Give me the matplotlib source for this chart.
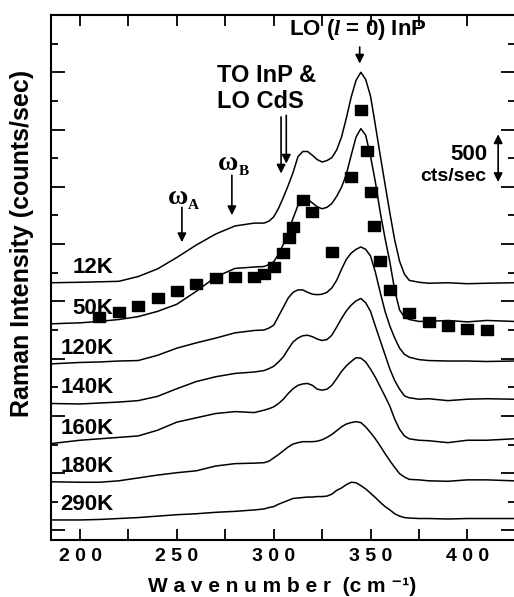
import matplotlib
matplotlib.use("Agg")
import matplotlib.pyplot as plt
from matplotlib.ticker import FixedLocator, MultipleLocator

plt.rcParams["font.family"] = ["Liberation Sans", "DejaVu Sans"]
plt.rcParams["font.weight"] = "bold"
plt.rcParams["mathtext.fontset"] = "custom"
plt.rcParams["mathtext.rm"] = "Liberation Sans:bold"
plt.rcParams["mathtext.bf"] = "Liberation Sans:bold"
plt.rcParams["mathtext.it"] = "Liberation Serif:italic"

# Raman shift grid shared by all spectra (cm^-1)
wavenumber = [185, 200, 210, 220, 230, 240, 250, 260, 270, 280,
              290, 295, 297.5, 300, 302.5, 305, 307.5, 310, 312.5, 315,
              317.5, 320, 322.5, 325, 327.5, 330, 332.5, 335, 337.5, 340,
              342.5, 345, 347.5, 350, 352.5, 355, 357.5, 360, 362.5, 365,
              367.5, 370, 375, 380, 390, 400, 410, 424]

# spectra, stacked with a vertical offset (cts/sec)
spec_12K = [2595, 2600, 2605, 2610, 2660, 2740, 2860, 2990, 3105, 3190,
            3220, 3220, 3240, 3285, 3375, 3490, 3615, 3750, 3915, 3970,
            3970, 3930, 3885, 3860, 3875, 3905, 3985, 4120, 4320, 4540,
            4715, 4800, 4725, 4550, 4245, 3930, 3625, 3325, 3040, 2820,
            2685, 2620, 2600, 2590, 2595, 2585, 2590, 2595]
spec_50K = [2165, 2175, 2190, 2210, 2240, 2295, 2370, 2505, 2655, 2745,
            2760, 2765, 2785, 2815, 2895, 3000, 3135, 3270, 3405, 3485,
            3470, 3430, 3390, 3370, 3385, 3425, 3500, 3595, 3730, 3930,
            4120, 4210, 4140, 3920, 3650, 3335, 3060, 2810, 2515, 2310,
            2235, 2210, 2190, 2190, 2200, 2185, 2200, 2190]
spec_120K = [1745, 1760, 1765, 1775, 1780, 1835, 1910, 1965, 2015, 2070,
             2095, 2100, 2120, 2150, 2245, 2340, 2435, 2495, 2520, 2520,
             2495, 2475, 2470, 2475, 2495, 2540, 2620, 2735, 2840, 2905,
             2945, 2970, 2945, 2875, 2705, 2495, 2295, 2140, 2015, 1910,
             1845, 1815, 1790, 1780, 1775, 1775, 1770, 1775]
spec_140K = [1330, 1325, 1335, 1345, 1360, 1405, 1485, 1560, 1610, 1645,
             1660, 1675, 1695, 1720, 1765, 1820, 1900, 1975, 2015, 2040,
             2045, 2030, 2005, 1990, 2000, 2045, 2130, 2220, 2300, 2360,
             2405, 2430, 2385, 2295, 2140, 1990, 1840, 1690, 1570, 1480,
             1410, 1390, 1375, 1380, 1360, 1375, 1380, 1375]
spec_160K = [910, 945, 960, 975, 990, 1050, 1135, 1180, 1225, 1245,
             1235, 1260, 1275, 1295, 1330, 1375, 1435, 1485, 1520, 1535,
             1540, 1520, 1480, 1470, 1480, 1520, 1590, 1665, 1725, 1770,
             1810, 1805, 1765, 1690, 1605, 1505, 1405, 1300, 1165, 1060,
             990, 960, 945, 940, 920, 945, 945, 960]
spec_180K = [510, 505, 505, 520, 550, 580, 605, 625, 675, 700,
             705, 710, 725, 760, 795, 835, 875, 905, 920, 930,
             930, 930, 935, 950, 975, 1005, 1045, 1085, 1115, 1130,
             1140, 1130, 1085, 1025, 960, 885, 805, 730, 660, 595,
             560, 535, 530, 520, 515, 530, 530, 520]
spec_290K = [110, 110, 115, 125, 135, 150, 165, 175, 190, 200,
             215, 225, 240, 250, 275, 295, 315, 335, 340, 345,
             350, 350, 355, 355, 360, 380, 420, 445, 480, 505,
             500, 470, 435, 390, 345, 295, 250, 215, 175, 150,
             135, 130, 125, 125, 120, 125, 125, 125]

temperatures = ["12K", "50K", "120K", "140K", "160K", "180K", "290K"]
spectra = [spec_12K, spec_50K, spec_120K, spec_140K, spec_160K, spec_180K, spec_290K]

# calculated lineshape for the 50K spectrum
calc_wavenumber = [210, 220, 230, 240, 250, 260, 270, 280, 290, 295,
                   300, 305, 308, 310, 315, 320, 330, 340, 345, 348,
                   350, 352, 355, 360, 370, 380, 390, 400, 410]
calc_intensity = [2235, 2290, 2355, 2435, 2510, 2585, 2640, 2655, 2655, 2690,
                  2760, 2905, 3060, 3180, 3460, 3335, 2920, 3700, 4400, 3980,
                  3545, 3185, 2825, 2515, 2275, 2185, 2140, 2115, 2100]

xtick_values = [200, 250, 300, 350, 400]
xtick_labels = ["2 0 0", "2 5 0", "3 0 0", "3 5 0", "4 0 0"]
scale_bar = 500

fig = plt.figure(figsize=(5.14, 5.97), dpi=100)
ax = fig.add_axes([51 / 514, 57 / 597, 464 / 514, 525 / 597])

for spec in spectra:
    ax.plot(wavenumber, spec, color="black", lw=1.1, solid_joinstyle="round")

rect = [(-1.2, -1), (1.2, -1), (1.2, 1), (-1.2, 1), (-1.2, -1)]
ax.plot(calc_wavenumber, calc_intensity, ls="none", marker=rect,
        markersize=9.2, color="black")

# temperature labels sit just above the left end of each trace
for name, spec in zip(temperatures, spectra):
    ax.text(217.3, spec[0] + 105, name, ha="right", va="baseline",
            fontsize=16, fontweight="bold")

arrow = dict(arrowstyle="-|>", color="black", lw=1.2, mutation_scale=13,
             shrinkA=0, shrinkB=0)

# phonon mode markers
ax.annotate("", xy=(252.6, 3020), xytext=(252.6, 3385), arrowprops=arrow)
ax.text(250.4, 3417, "ω", family="Liberation Serif", fontweight="bold",
        fontsize=20, ha="center", va="baseline")
ax.text(255.6, 3370, "A", family="Liberation Serif", fontweight="bold",
        fontsize=11, ha="left", va="baseline")

ax.annotate("", xy=(278.4, 3303), xytext=(278.4, 3721), arrowprops=arrow)
ax.text(276.4, 3774, "ω", family="Liberation Serif", fontweight="bold",
        fontsize=20, ha="center", va="baseline")
ax.text(281.8, 3720, "B", family="Liberation Serif", fontweight="bold",
        fontsize=11, ha="left", va="baseline")

ax.text(270.6, 4698, "TO InP &", fontsize=17, fontweight="bold",
        ha="left", va="baseline")
ax.text(270.6, 4423, "LO CdS", fontsize=17, fontweight="bold",
        ha="left", va="baseline")
ax.annotate("", xy=(303.8, 3739), xytext=(303.8, 4332), arrowprops=arrow)
ax.annotate("", xy=(306.5, 3843), xytext=(306.5, 4349), arrowprops=arrow)

ax.text(343.4, 5187, "LO ($l$ = 0) InP", fontsize=16, fontweight="bold",
        ha="center", va="baseline")
ax.annotate("", xy=(344.4, 4891), xytext=(344.4, 5064), arrowprops=arrow)

# intensity scale bar
bar_bottom = 3650
ax.annotate("", xy=(415.9, bar_bottom + scale_bar), xytext=(415.9, bar_bottom),
            arrowprops=dict(arrowstyle="<|-|>", color="black", lw=1.2,
                            mutation_scale=13, shrinkA=0, shrinkB=0))
ax.text(410.2, 3878, "500", fontsize=16, fontweight="bold",
        ha="right", va="baseline")
ax.text(410.0, 3657, "cts/sec", fontsize=14, fontweight="bold",
        ha="right", va="baseline")

ax.set_xlim(185, 424.6)
ax.set_ylim(-100, 5400)

ax.xaxis.set_major_locator(FixedLocator(xtick_values))
ax.set_xticklabels(xtick_labels)
ax.xaxis.set_minor_locator(FixedLocator([225, 275, 325, 375]))
ax.tick_params(axis="x", which="both", direction="in", top=True, bottom=True,
               length=8, width=1.3)
ax.tick_params(axis="x", which="major", labelsize=14, pad=6)

ax.yaxis.set_major_locator(MultipleLocator(600))
ax.yaxis.set_minor_locator(MultipleLocator(300))
ax.tick_params(axis="y", which="major", direction="in", left=True, right=True,
               length=10, width=1.3, labelleft=False)
ax.tick_params(axis="y", which="minor", direction="in", left=True, right=True,
               length=5, width=1.3)

for side in ax.spines.values():
    side.set_linewidth(1.5)
ax.spines["right"].set_visible(False)

fig.text(22 / 514, 1 - 243 / 597, "Raman Intensity (counts/sec)", rotation=90,
         ha="center", va="center", fontsize=18, fontweight="bold")
fig.text(282 / 514, 1 - 592 / 597, "W a v e n u m b e r  (c m ⁻¹)",
         ha="center", va="baseline", fontsize=15, fontweight="bold")

fig.savefig("out.png", dpi=100)
